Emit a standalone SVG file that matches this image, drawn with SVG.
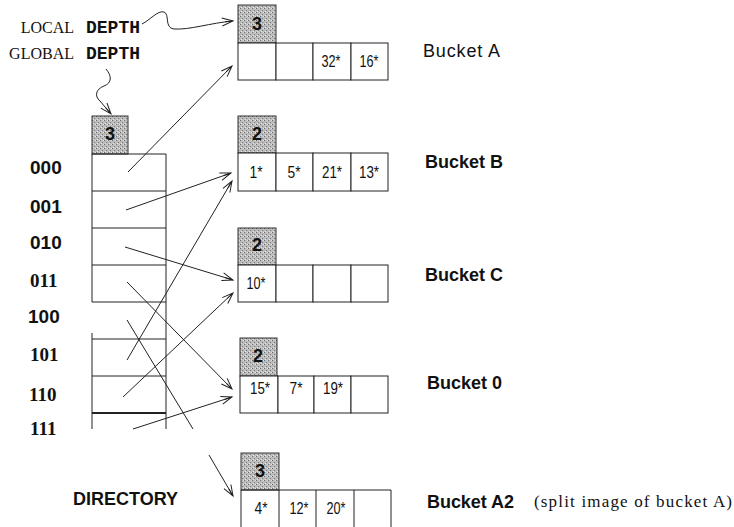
<svg xmlns="http://www.w3.org/2000/svg" width="734" height="527" viewBox="0 0 734 527">
<style>
.cell{fill:#fff;stroke:#222;stroke-width:1}
.depth{fill:url(#stip);stroke:#333;stroke-width:1}
.dn{font-family:"Liberation Sans",Arial,sans-serif;font-weight:bold;font-size:18px;text-anchor:middle;fill:#111}
.val{font-family:"Liberation Sans",Arial,sans-serif;font-size:16px;text-anchor:middle;fill:#111}
.lbl{font-family:"Liberation Sans",Arial,sans-serif;font-size:18px;fill:#111}
.b{font-weight:bold}
.ser{font-family:"Liberation Serif","Times New Roman",serif;fill:#111}
.mono{font-family:"Liberation Mono","Courier New",monospace;font-weight:bold;font-size:18px;fill:#111}
.key{font-size:19px;font-weight:bold;fill:#111}
.conn{fill:none;stroke:#222;stroke-width:1}
.dir{stroke:#222;stroke-width:1;fill:none}
</style>
<defs>
<pattern id="stip" width="4" height="4" patternUnits="userSpaceOnUse">
<rect width="4" height="4" fill="#bcbcbc"/>
<rect x="0" y="0" width="1" height="1" fill="#6a6a6a"/>
<rect x="2" y="2" width="1" height="1" fill="#7a7a7a"/>
<rect x="3" y="0" width="1" height="1" fill="#e2e2e2"/>
<rect x="1" y="3" width="1" height="1" fill="#e2e2e2"/>
</pattern>
<marker id="arr" markerUnits="userSpaceOnUse" markerWidth="14" markerHeight="10" refX="12" refY="5" orient="auto" viewBox="0 0 14 10">
<path d="M1,1 L12,5 L1,9 M4,5 L12,5" fill="none" stroke="#222" stroke-width="1"/>
</marker>
</defs>

<!-- labels -->
<g id="depth-labels">
<text class="ser" x="74" y="33" font-size="16" text-anchor="end">LOCAL</text>
<text class="mono" x="86" y="33">DEPTH</text>
<text class="ser" x="74" y="59" font-size="16" text-anchor="end">GLOBAL</text>
<text class="mono" x="86" y="59">DEPTH</text>
</g>

<!-- directory -->
<g id="directory">
<rect class="depth" x="92" y="116" width="36" height="38"/>
<text class="dn" x="110" y="140">3</text>
<path class="dir" d="M92,154 V302 M92,333 V429 M166,154 V429 M92,154 H166 M92,191 H166 M92,228 H166 M92,265 H166 M92,302 H166 M92,339 H166 M92,376 H166"/>
<path d="M92,413 H166" stroke="#222" stroke-width="2"/>
<g font-family="Liberation Sans, Arial, sans-serif" class="key">
<text x="30" y="174">000</text>
<text x="30" y="213">001</text>
<text x="30" y="249">010</text>
<text x="28" y="323">100</text>
</g>
<g font-family="Liberation Serif, Times New Roman, serif" class="key">
<text x="30" y="287">011</text>
<text x="30" y="361">101</text>
<text x="29" y="401">110</text>
<text x="30" y="435">111</text>
</g>
<text class="lbl b" x="73" y="505" font-size="17" textLength="105" lengthAdjust="spacing">DIRECTORY</text>
</g>

<!-- Bucket A -->
<g id="bucketA">
<rect class="depth" x="238" y="5" width="38" height="38"/>
<text class="dn" x="257" y="30">3</text>
<rect class="cell" x="238" y="43" width="38" height="37"/>
<rect class="cell" x="276" y="43" width="37" height="37"/>
<rect class="cell" x="313" y="43" width="38" height="37"/>
<rect class="cell" x="351" y="43" width="37" height="37"/>
<text class="val" x="331" y="67" textLength="19" lengthAdjust="spacingAndGlyphs">32*</text>
<text class="val" x="369" y="67" textLength="19" lengthAdjust="spacingAndGlyphs">16*</text>
<text class="lbl" x="423" y="57" textLength="77" lengthAdjust="spacing">Bucket A</text>
</g>

<!-- Bucket B -->
<g id="bucketB">
<rect class="depth" x="238" y="116" width="38" height="37"/>
<text class="dn" x="257" y="140">2</text>
<rect class="cell" x="238" y="153" width="38" height="38"/>
<rect class="cell" x="276" y="153" width="37" height="38"/>
<rect class="cell" x="313" y="153" width="38" height="38"/>
<rect class="cell" x="351" y="153" width="37" height="38"/>
<text class="val" x="256" y="178" textLength="13" lengthAdjust="spacingAndGlyphs">1*</text>
<text class="val" x="294" y="178" textLength="13" lengthAdjust="spacingAndGlyphs">5*</text>
<text class="val" x="332" y="178" textLength="20" lengthAdjust="spacingAndGlyphs">21*</text>
<text class="val" x="369" y="178" textLength="20" lengthAdjust="spacingAndGlyphs">13*</text>
<text class="lbl b" x="425" y="168" textLength="78" lengthAdjust="spacing">Bucket B</text>
</g>

<!-- Bucket C -->
<g id="bucketC">
<rect class="depth" x="238" y="228" width="38" height="37"/>
<text class="dn" x="257" y="251">2</text>
<rect class="cell" x="238" y="265" width="38" height="37"/>
<rect class="cell" x="276" y="265" width="37" height="37"/>
<rect class="cell" x="313" y="265" width="38" height="37"/>
<rect class="cell" x="351" y="265" width="37" height="37"/>
<text class="val" x="256" y="289" textLength="19" lengthAdjust="spacingAndGlyphs">10*</text>
<text class="lbl b" x="425" y="281" textLength="78" lengthAdjust="spacing">Bucket C</text>
</g>

<!-- Bucket 0 -->
<g id="bucket0">
<rect class="depth" x="240" y="338" width="37" height="38"/>
<text class="dn" x="258" y="362">2</text>
<rect class="cell" x="240" y="376" width="38" height="37"/>
<rect class="cell" x="278" y="376" width="36" height="37"/>
<rect class="cell" x="314" y="376" width="37" height="37"/>
<rect class="cell" x="351" y="376" width="37" height="37"/>
<text class="val" x="260" y="394" textLength="20" lengthAdjust="spacingAndGlyphs">15*</text>
<text class="val" x="296" y="394" textLength="13" lengthAdjust="spacingAndGlyphs">7*</text>
<text class="val" x="333" y="394" textLength="20" lengthAdjust="spacingAndGlyphs">19*</text>
<text class="lbl b" x="427" y="389" textLength="75" lengthAdjust="spacing">Bucket 0</text>
</g>

<!-- Bucket A2 -->
<g id="bucketA2">
<rect class="depth" x="241" y="453" width="38" height="37"/>
<text class="dn" x="260" y="477">3</text>
<path class="dir" d="M241,490 H391 M241,490 V530 M279,490 V530 M316,490 V530 M354,490 V530 M391,490 V530"/>
<text class="val" x="261" y="514" textLength="13" lengthAdjust="spacingAndGlyphs">4*</text>
<text class="val" x="299" y="514" textLength="19" lengthAdjust="spacingAndGlyphs">12*</text>
<text class="val" x="336" y="514" textLength="19" lengthAdjust="spacingAndGlyphs">20*</text>
<text class="lbl b" x="427" y="508" textLength="87" lengthAdjust="spacing">Bucket A2</text>
<text class="ser" x="534" y="507" font-size="17" textLength="198" lengthAdjust="spacing">(split image of bucket A)</text>
</g>

<!-- connectors -->
<g id="connectors">
<path class="conn" marker-end="url(#arr)" d="M142,24 C150,20 158,10 164,12 C170,14 164,28 174,29 C190,30 210,23 233,21"/>
<path class="conn" marker-end="url(#arr)" d="M106,69 C112,76 112,83 104,86 C96,89 94,96 100,101 L111,114"/>
<path class="conn" marker-end="url(#arr)" d="M128,172 L232,66"/>
<path class="conn" marker-end="url(#arr)" d="M126,210 L231,173"/>
<path class="conn" marker-end="url(#arr)" d="M125,247 L233,280"/>
<path class="conn" marker-end="url(#arr)" d="M127,282 L232,389"/>
<path class="conn" d="M127,320 L193,429"/>
<path class="conn" marker-end="url(#arr)" d="M209,455 L233,496"/>
<path class="conn" marker-end="url(#arr)" d="M127,360 L232,181"/>
<path class="conn" marker-end="url(#arr)" d="M123,397 L233,293"/>
<path class="conn" marker-end="url(#arr)" d="M133,429 L232,397"/>
</g>
</svg>
